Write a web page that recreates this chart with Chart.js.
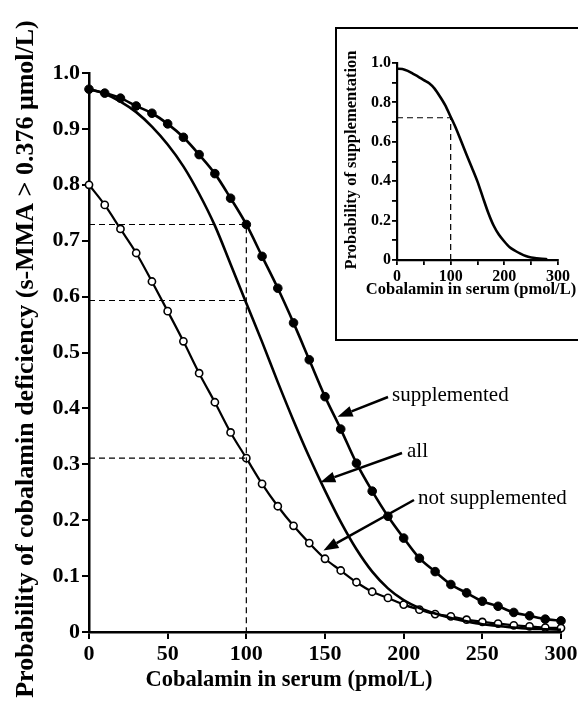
<!DOCTYPE html>
<html>
<head>
<meta charset="utf-8">
<script src="https://cdn.jsdelivr.net/npm/chart.js@4.4.1/dist/chart.umd.min.js"></script>
<style>
  html, body { margin: 0; padding: 0; background: #fff; overflow: hidden; }
  #wrap { position: relative; width: 578px; height: 705px; }
  #main { position: absolute; left: 0; top: 0; }
  #insetBox { position: absolute; left: 335px; top: 27px; width: 245px; height: 310px;
              border: 2px solid #000; border-right: none; background: #fff; }
  #inset { position: absolute; left: 0; top: 0; }
</style>
</head>
<body>
<div id="wrap">
  <canvas id="main" width="578" height="705"></canvas>
  <div id="insetBox"><canvas id="inset" width="245" height="310"></canvas></div>
</div>
<script>
// ---------- data ----------
const cobalamin = [0,10,20,30,40,50,60,70,80,90,100,110,120,130,140,150,160,170,180,190,200,210,220,230,240,250,260,270,280,290,300];
const supplemented = [0.971,0.964,0.955,0.941,0.928,0.909,0.885,0.854,0.820,0.776,0.729,0.672,0.615,0.553,0.487,0.421,0.363,0.302,0.252,0.207,0.168,0.132,0.108,0.085,0.070,0.055,0.046,0.035,0.029,0.023,0.020];
const notSupplemented = [0.800,0.764,0.721,0.678,0.627,0.574,0.520,0.463,0.411,0.357,0.311,0.265,0.225,0.190,0.159,0.131,0.110,0.089,0.072,0.061,0.049,0.040,0.032,0.028,0.022,0.018,0.015,0.012,0.010,0.008,0.007];
const allSubjects = [0.971,0.963,0.949,0.930,0.904,0.872,0.833,0.784,0.727,0.658,0.588,0.519,0.447,0.378,0.313,0.253,0.197,0.148,0.108,0.078,0.057,0.043,0.033,0.025,0.019,0.014,0.011,0.008,0.006,0.005,0.004];

const insetCobalamin = [0,10,20,30,40,50,60,70,80,90,100,110,120,130,140,150,160,170,180,190,200,210,220,230,240,250,260,270,280];
const supplementationProb = [0.971,0.970,0.960,0.945,0.930,0.913,0.897,0.870,0.830,0.785,0.727,0.668,0.600,0.532,0.466,0.398,0.318,0.240,0.175,0.128,0.094,0.065,0.047,0.032,0.020,0.013,0.009,0.006,0.004];

// reference lines (x = 100 pmol/L)
const refX = 100;
const refMain = [0.729, 0.593, 0.311];
const refInset = 0.722;

const mainXTicks = [0,50,100,150,200,250,300];
const mainYTicks = [0,0.1,0.2,0.3,0.4,0.5,0.6,0.7,0.8,0.9,1.0];

const labels = {
  xTitle: 'Cobalamin in serum (pmol/L)',
  yTitle: 'Probability of cobalamin deficiency (s-MMA > 0.376 \u03bcmol/L)',
  insetY: 'Probability of supplementation',
  supp: 'supplemented', all: 'all', notSupp: 'not supplemented'
};

const SERIF = '"Liberation Serif", "Times New Roman", Times, serif';
const pts = (xs, ys) => xs.map((x, i) => ({ x: x, y: ys[i] }));

function dashedSet(data, w) {
  return { data: data, borderColor: '#000', borderWidth: w, borderDash: [6, 4],
           pointRadius: 0, fill: false, tension: 0, clip: false };
}

function arrow(ctx, x1, y1, x2, y2) {
  const ang = Math.atan2(y2 - y1, x2 - x1);
  const L = 15, W = 5.5;
  const bx = x2 - L * Math.cos(ang), by = y2 - L * Math.sin(ang);
  ctx.save();
  ctx.strokeStyle = '#000'; ctx.fillStyle = '#000'; ctx.lineWidth = 2.5;
  ctx.beginPath(); ctx.moveTo(x1, y1); ctx.lineTo(bx, by); ctx.stroke();
  ctx.beginPath();
  ctx.moveTo(x2, y2);
  ctx.lineTo(bx + W * Math.sin(ang), by - W * Math.cos(ang));
  ctx.lineTo(bx - W * Math.sin(ang), by + W * Math.cos(ang));
  ctx.closePath(); ctx.fill();
  ctx.restore();
}

const mainDecor = {
  id: 'mainDecor',
  afterDraw(chart) {
    const ctx = chart.ctx;
    const xs = chart.scales.x, ys = chart.scales.y;
    ctx.save();
    ctx.fillStyle = '#000';
    ctx.textAlign = 'center'; ctx.textBaseline = 'middle';
    ctx.font = 'bold 22.5px ' + SERIF;
    ctx.fillText(labels.xTitle, 289, 680);
    ctx.save();
    ctx.font = 'bold 26px ' + SERIF;
    ctx.translate(26, 359);
    ctx.rotate(-Math.PI / 2);
    ctx.fillText(labels.yTitle, 0, 0);
    ctx.restore();
    // annotations
    ctx.font = '21px ' + SERIF;
    ctx.textAlign = 'left';
    ctx.fillText(labels.supp, 392, 395);
    ctx.fillText(labels.all, 407, 451);
    ctx.fillText(labels.notSupp, 418, 498);
    ctx.restore();
    // arrows pointing at the curves
    arrow(ctx, 388, 397, xs.getPixelForValue(158), ys.getPixelForValue(0.385));
    arrow(ctx, 402, 453, xs.getPixelForValue(147), ys.getPixelForValue(0.268));
    arrow(ctx, 414, 500, xs.getPixelForValue(149), ys.getPixelForValue(0.146));
  }
};

new Chart(document.getElementById('main'), {
  type: 'line',
  data: {
    datasets: [
      dashedSet([{x:0,y:refMain[0]},{x:refX,y:refMain[0]},{x:refX,y:0}], 1.2),
      dashedSet([{x:0,y:refMain[1]},{x:refX,y:refMain[1]}], 1.2),
      dashedSet([{x:0,y:refMain[2]},{x:refX,y:refMain[2]}], 1.2),
      { data: pts(cobalamin, allSubjects), borderColor: '#000', borderWidth: 2.6,
        pointRadius: 0, cubicInterpolationMode: 'monotone', fill: false, clip: false },
      { data: pts(cobalamin, notSupplemented), borderColor: '#000', borderWidth: 2.2,
        pointRadius: 3.6, pointBackgroundColor: '#fff', pointBorderColor: '#000', pointBorderWidth: 1.6,
        cubicInterpolationMode: 'monotone', fill: false, clip: false },
      { data: pts(cobalamin, supplemented), borderColor: '#000', borderWidth: 2.6,
        pointRadius: 4.3, pointBackgroundColor: '#000', pointBorderColor: '#000', pointBorderWidth: 1,
        cubicInterpolationMode: 'monotone', fill: false, clip: false }
    ]
  },
  options: {
    responsive: false, animation: false, devicePixelRatio: 1,
    layout: { padding: { top: 73, right: 17, left: 0, bottom: 0 } },
    plugins: { legend: { display: false }, tooltip: { enabled: false } },
    scales: {
      x: {
        type: 'linear', min: 0, max: 300,
        afterBuildTicks(s) { s.ticks = mainXTicks.map(v => ({ value: v })); },
        afterFit(s) { s.height = 73; s.paddingLeft = 0; s.paddingRight = 0; },
        ticks: { font: { family: SERIF, size: 22, weight: 'bold' }, color: '#000', padding: 2, maxRotation: 0, autoSkip: false },
        grid: { drawOnChartArea: false, drawTicks: true, tickLength: 7, color: '#000', lineWidth: 2 },
        border: { display: true, color: '#000', width: 2.5 }
      },
      y: {
        type: 'linear', min: 0, max: 1,
        afterBuildTicks(s) { s.ticks = mainYTicks.map(v => ({ value: v })); },
        afterFit(s) { s.width = 89; s.paddingTop = 0; s.paddingBottom = 0; },
        ticks: { font: { family: SERIF, size: 22, weight: 'bold' }, color: '#000', padding: 2, autoSkip: false,
                 callback: v => (v === 0 ? '0' : v.toFixed(1)) },
        grid: { drawOnChartArea: false, drawTicks: true, tickLength: 7, color: '#000', lineWidth: 2 },
        border: { display: true, color: '#000', width: 2.5 }
      }
    }
  },
  plugins: [mainDecor]
});

// ---------------- inset ----------------
const insetXTicks = [0,50,100,150,200,250,300];
const insetYTicks = [0,0.1,0.2,0.3,0.4,0.5,0.6,0.7,0.8,0.9,1.0];

const insetDecor = {
  id: 'insetDecor',
  afterDraw(chart) {
    const ctx = chart.ctx;
    ctx.save();
    ctx.fillStyle = '#000';
    ctx.font = 'bold 16.5px ' + SERIF;
    ctx.textAlign = 'center'; ctx.textBaseline = 'middle';
    ctx.fillText(labels.xTitle, 134, 261);
    ctx.translate(15, 131);
    ctx.rotate(-Math.PI / 2);
    ctx.fillText(labels.insetY, 0, 0);
    ctx.restore();
  }
};

new Chart(document.getElementById('inset'), {
  type: 'line',
  data: {
    datasets: [
      dashedSet([{x:0,y:refInset},{x:refX,y:refInset},{x:refX,y:0}], 1.2),
      { data: pts(insetCobalamin, supplementationProb), borderColor: '#000', borderWidth: 2.6,
        pointRadius: 0, tension: 0.25, fill: false, clip: false }
    ]
  },
  options: {
    responsive: false, animation: false, devicePixelRatio: 1,
    layout: { padding: { top: 34, right: 24, left: 0, bottom: 0 } },
    plugins: { legend: { display: false }, tooltip: { enabled: false } },
    scales: {
      x: {
        type: 'linear', min: 0, max: 300,
        afterBuildTicks(s) { s.ticks = insetXTicks.map(v => ({ value: v })); },
        afterFit(s) { s.height = 79; s.paddingLeft = 0; s.paddingRight = 0; },
        ticks: { font: { family: SERIF, size: 16, weight: 'bold' }, color: '#000', padding: 2, maxRotation: 0, autoSkip: false,
                 callback: v => (v % 100 === 0 ? String(v) : '') },
        grid: { drawOnChartArea: false, drawTicks: true, tickLength: 5, color: '#000', lineWidth: 1.8 },
        border: { display: true, color: '#000', width: 2.2 }
      },
      y: {
        type: 'linear', min: 0, max: 1,
        afterBuildTicks(s) { s.ticks = insetYTicks.map(v => ({ value: v })); },
        afterFit(s) { s.width = 60; s.paddingTop = 0; s.paddingBottom = 0; },
        ticks: { font: { family: SERIF, size: 16, weight: 'bold' }, color: '#000', padding: 1, autoSkip: false,
                 callback: v => { const k = Math.round(v * 10); return k % 2 !== 0 ? '' : (k === 0 ? '0' : v.toFixed(1)); } },
        grid: { drawOnChartArea: false, drawTicks: true, tickLength: 5, color: '#000', lineWidth: 1.8 },
        border: { display: true, color: '#000', width: 2.2 }
      }
    }
  },
  plugins: [insetDecor]
});
</script>
</body>
</html>
